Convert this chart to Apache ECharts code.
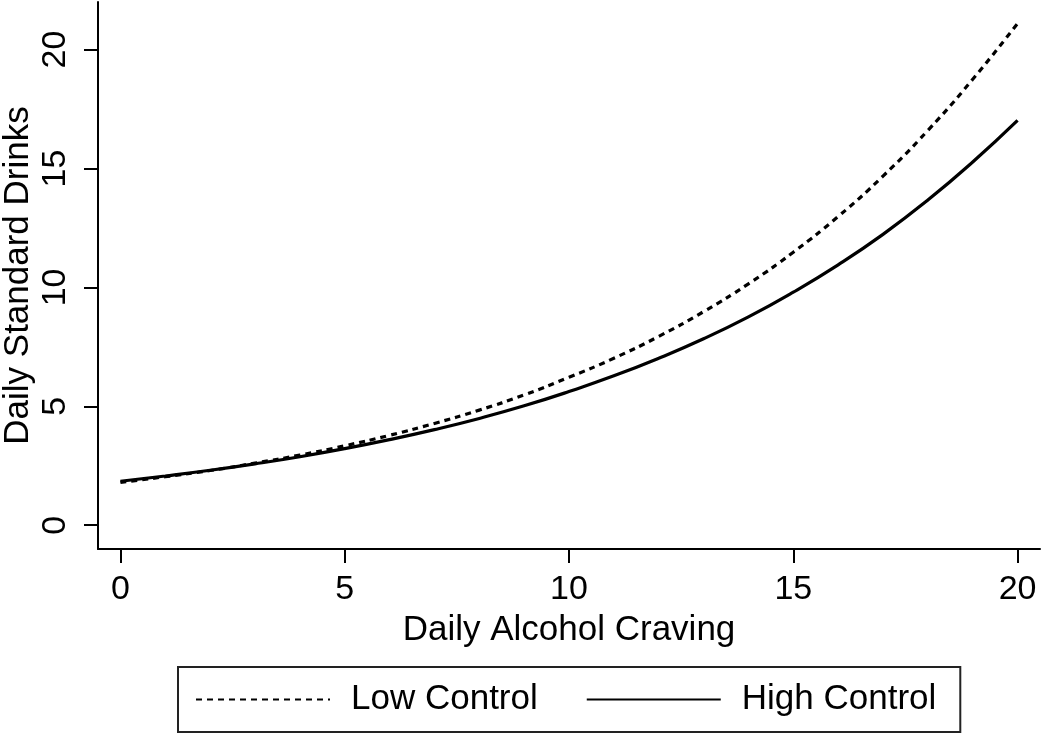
<!DOCTYPE html>
<html>
<head>
<meta charset="utf-8">
<script src="https://cdn.jsdelivr.net/npm/echarts@6/dist/echarts.min.js"></script>
<style>
html,body{margin:0;padding:0;background:#fff;}
#chart{width:1050px;height:743px;}
</style>
</head>
<body>
<div id="chart"></div>
<script>
// Daily Alcohol Craving (x)
const craving = [0,1,2,3,4,5,6,7,8,9,10,11,12,13,14,15,16,17,18,19,20];
// Daily Standard Drinks
const lowControl  = [1.80,2.04,2.30,2.61,2.95,3.34,3.78,4.28,4.84,5.48,6.22,7.02,7.94,8.98,10.15,11.48,12.98,14.68,16.60,18.75,21.10];
const highControl = [1.85,2.07,2.31,2.58,2.88,3.22,3.60,4.02,4.49,5.02,5.62,6.28,7.02,7.84,8.76,9.80,10.95,12.23,13.67,15.27,17.02];
const tickValues = [0,5,10,15,20];
const seriesNames = ['Low Control','High Control'];

const FONT = 'Liberation Sans, Arial, Helvetica, sans-serif';
const pairs = ys => craving.map((x,i)=>[x, ys[i]]);

const chart = echarts.init(document.getElementById('chart'));
chart.setOption({
  animation:false,
  backgroundColor:'#fff',
  textStyle:{fontFamily:FONT},
  grid:{left:98,right:10,top:2,bottom:194,containLabel:false,outerBoundsMode:'none'},
  xAxis:{
    type:'value',min:-0.5,max:20.5,
    name:'Daily Alcohol Craving',nameLocation:'middle',nameGap:64,nameMoveOverlap:false,
    nameTextStyle:{fontSize:35,color:'#000',fontFamily:FONT},
    axisLine:{show:true,onZero:false,lineStyle:{color:'#000',width:2}},
    axisTick:{show:true,length:14,lineStyle:{color:'#000',width:2},customValues:tickValues},
    axisLabel:{fontSize:34,color:'#000',margin:24,fontFamily:FONT,customValues:tickValues},
    splitLine:{show:false}
  },
  yAxis:{
    type:'value',min:-1,max:22,
    name:'Daily Standard Drinks',nameLocation:'middle',nameGap:62,nameMoveOverlap:false,
    nameTextStyle:{fontSize:35,color:'#000',fontFamily:FONT},
    axisLine:{show:true,onZero:false,lineStyle:{color:'#000',width:2}},
    axisTick:{show:true,length:14,lineStyle:{color:'#000',width:2},customValues:tickValues},
    axisLabel:{fontSize:34,color:'#000',margin:25,rotate:90,fontFamily:FONT,customValues:tickValues},
    splitLine:{show:false}
  },
  legend:{
    left:178,top:667,orient:'horizontal',
    padding:[15,24,15,17],
    borderColor:'#222',borderWidth:2,
    itemWidth:134,itemHeight:14,itemGap:48,
    itemStyle:{opacity:0},
    textStyle:{fontSize:35,color:'#000',fontFamily:FONT,padding:[0,0,0,16]},
    data:seriesNames
  },
  series:[
    {name:seriesNames[0],type:'line',data:pairs(lowControl),smooth:true,symbol:'none',
     lineStyle:{color:'#000',width:3.2,type:[6,5]},itemStyle:{color:'#000'}},
    {name:seriesNames[1],type:'line',data:pairs(highControl),smooth:true,symbol:'none',
     lineStyle:{color:'#000',width:3.2,type:'solid'},itemStyle:{color:'#000'}}
  ]
});
</script>
</body>
</html>
